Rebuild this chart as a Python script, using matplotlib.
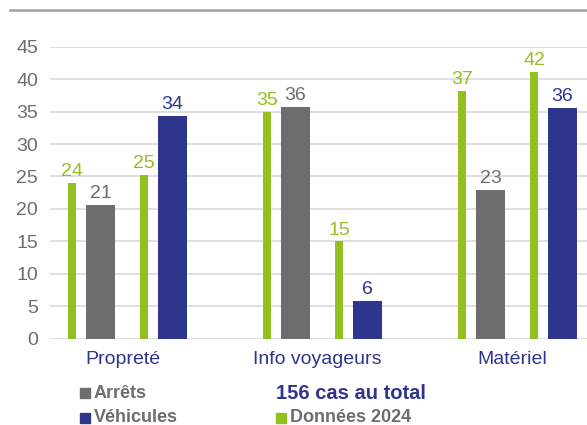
import numpy as np
import matplotlib.pyplot as plt
from matplotlib.patches import Rectangle
from matplotlib.lines import Line2D

plt.rcParams['font.family'] = ['Liberation Sans', 'DejaVu Sans']

# data
categories = ['Propreté', 'Info voyageurs', 'Matériel']
arrets_2024 = [24.0, 34.9, 38.2]
arrets_2024_lbl = [24, 35, 37]
arrets = [20.6, 35.7, 22.9]
arrets_lbl = [21, 36, 23]
vehicules_2024 = [25.2, 15.0, 41.1]
vehicules_2024_lbl = [25, 15, 42]
vehicules = [34.3, 5.8, 35.6]
vehicules_lbl = [34, 6, 36]
yticks = [0, 5, 10, 15, 20, 25, 30, 35, 40, 45]

green = '#93c01f'
grey = '#6d6d6d'
blue = '#2e358c'

fig = plt.figure(figsize=(5.87, 4.25), dpi=100)
ax = fig.add_axes([50 / 587, 1 - 338.7 / 425, 1 - 50 / 587, 292 / 425])

x = np.arange(len(categories))
series = [
    (arrets_2024, arrets_2024_lbl, -0.259, 0.040, green),
    (arrets, arrets_lbl, -0.113, 0.149, grey),
    (vehicules_2024, vehicules_2024_lbl, 0.110, 0.040, green),
    (vehicules, vehicules_lbl, 0.256, 0.149, blue),
]
for vals, lbls, off, w, col in series:
    bars = ax.bar(x + off, vals, width=w, color=col, zorder=3)
    ax.bar_label(bars, labels=[str(v) for v in lbls], color=col,
                 fontsize=14, padding=2)

ax.set_xlim(-0.372, 2.382)
ax.set_ylim(0, 45)
ax.set_yticks(yticks)
ax.grid(axis='y', color='#dadada', linewidth=1.2, zorder=0)
for s in ax.spines.values():
    s.set_visible(False)
ax.tick_params(axis='y', length=0, pad=8.5, labelsize=14, labelcolor=grey)
ax.set_xticks(x)
ax.set_xticklabels(categories)
ax.tick_params(axis='x', length=0, pad=8.5, labelsize=14, labelcolor=blue)

# top rule
fig.add_artist(Line2D([10 / 587, 1], [1 - 10 / 425, 1 - 10 / 425],
                      color='#a0a0a0', linewidth=1.8))

# legend
def legend_item(px, py, col, text):
    fig.add_artist(Rectangle((px / 587, 1 - (py + 5) / 425), 10 / 587, 10 / 425,
                             color=col, transform=fig.transFigure))
    fig.text((px + 14) / 587, 1 - py / 425, text, color=grey, fontsize=13,
             fontweight='bold', va='center')

legend_item(80, 393, grey, 'Arrêts')
legend_item(80, 418, blue, 'Véhicules')
legend_item(276, 418, green, 'Données 2024')
fig.text(276 / 587, 1 - 393.5 / 425, '156 cas au total', color=blue,
         fontsize=14.5, fontweight='bold', va='center')

fig.savefig('out.png', dpi=100)
